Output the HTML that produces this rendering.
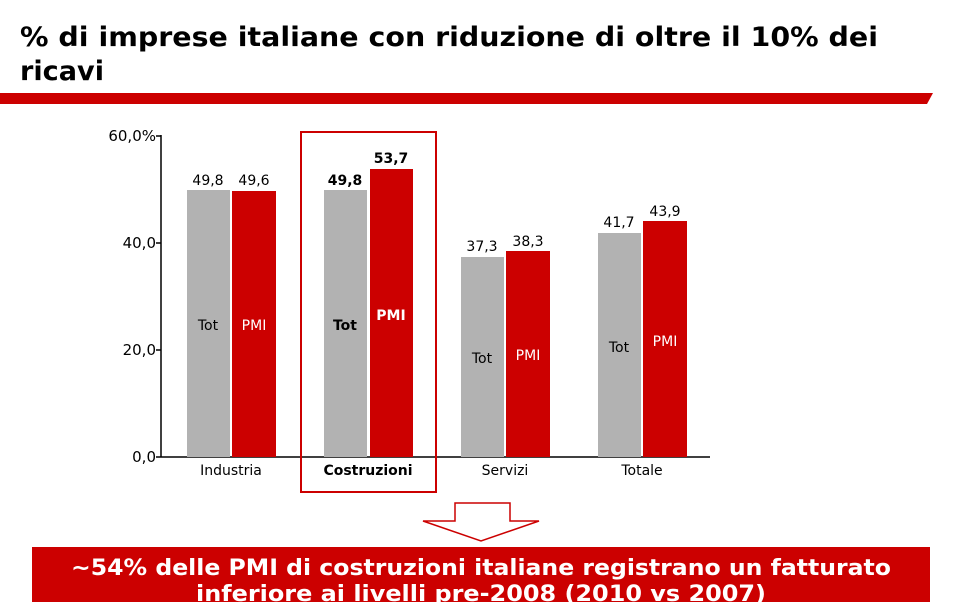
<!DOCTYPE html>
<html><head><meta charset="utf-8"><style>
html,body{margin:0;padding:0;background:#fff;}
svg{display:block;font-family:"DejaVu Sans","Liberation Sans",sans-serif;}
</style></head><body>
<svg width="960" height="602" viewBox="0 0 960 602" xmlns="http://www.w3.org/2000/svg">
<text x="20" y="46" font-size="27" font-weight="bold" fill="#000" textLength="858" lengthAdjust="spacingAndGlyphs">% di imprese italiane con riduzione di oltre il 10% dei</text>
<text x="20" y="80" font-size="27" font-weight="bold" fill="#000" textLength="84" lengthAdjust="spacingAndGlyphs">ricavi</text>
<polygon points="0,93 933,93 927,104 0,104" fill="#cc0000"/>
<line x1="161" y1="135" x2="161" y2="457" stroke="#000" stroke-width="1.5"/>
<line x1="161" y1="457" x2="710" y2="457" stroke="#000" stroke-width="1.5"/>
<g stroke="#000" stroke-width="1.5">
<line x1="156" y1="136" x2="161" y2="136"/><line x1="156" y1="243" x2="161" y2="243"/>
<line x1="156" y1="350" x2="161" y2="350"/><line x1="156" y1="457" x2="161" y2="457"/>
</g>
<g font-size="15" fill="#000" text-anchor="end">
<text x="156" y="141">60,0%</text><text x="156" y="248">40,0</text>
<text x="156" y="355">20,0</text><text x="156" y="462">0,0</text>
</g>
<g fill="#b2b2b2">
<rect x="187" y="190" width="43" height="267"/>
<rect x="324" y="190" width="43" height="267"/>
<rect x="461" y="257" width="43" height="200"/>
<rect x="598" y="233" width="43" height="224"/>
</g>
<g fill="#cc0000">
<rect x="232" y="191" width="44" height="266"/>
<rect x="370" y="169" width="43" height="288"/>
<rect x="506" y="251" width="44" height="206"/>
<rect x="643" y="221" width="44" height="236"/>
</g>
<g font-size="14" fill="#000" text-anchor="middle">
<text x="208" y="185">49,8</text><text x="254" y="185">49,6</text>
<text x="345" y="185" font-weight="bold">49,8</text><text x="391" y="163" font-weight="bold">53,7</text>
<text x="482" y="251">37,3</text><text x="528" y="246">38,3</text>
<text x="619" y="227">41,7</text><text x="665" y="216">43,9</text>
<text x="208" y="330">Tot</text><text x="254" y="330" fill="#fff">PMI</text>
<text x="345" y="330" font-weight="bold">Tot</text><text x="391" y="320" font-weight="bold" fill="#fff">PMI</text>
<text x="482" y="363">Tot</text><text x="528" y="360" fill="#fff">PMI</text>
<text x="619" y="352">Tot</text><text x="665" y="346" fill="#fff">PMI</text>
<text x="231" y="475">Industria</text><text x="368" y="475" font-weight="bold">Costruzioni</text>
<text x="505" y="475">Servizi</text><text x="642" y="475">Totale</text>
</g>
<rect x="301" y="132" width="135" height="360" fill="none" stroke="#cc0000" stroke-width="2"/>
<polygon points="455,503 510,503 510,521 539,521 481,541 423,521 455,521" fill="#fff" stroke="#cc0000" stroke-width="1.5"/>
<rect x="32" y="547" width="898" height="60" fill="#cc0000"/>
<g font-size="22" font-weight="bold" fill="#fff" text-anchor="middle">
<text x="481" y="575" textLength="820" lengthAdjust="spacingAndGlyphs">~54% delle PMI di costruzioni italiane registrano un fatturato</text>
<text x="481" y="601" textLength="570" lengthAdjust="spacingAndGlyphs">inferiore ai livelli pre-2008 (2010 vs 2007)</text>
</g>
</svg>
</body></html>
